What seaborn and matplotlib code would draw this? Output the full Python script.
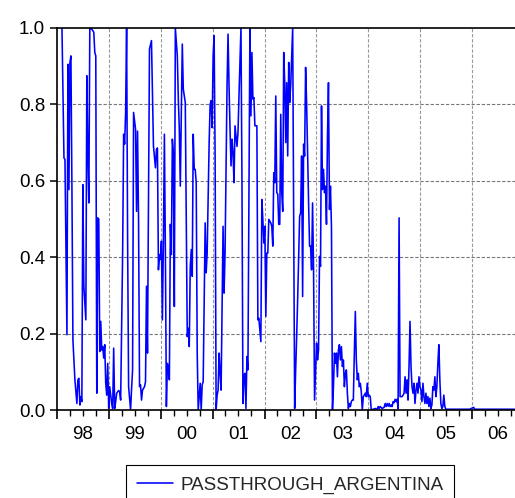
import numpy as np
import pandas as pd
import matplotlib
matplotlib.use("Agg")
import matplotlib.pyplot as plt
import matplotlib.dates as mdates
from matplotlib.lines import Line2D
import seaborn as sns

# Weekly pass-through estimates; week index counted from 1 Jan 1998.
wk_1998 = [5, 7, 8, 10, 11, 12, 13, 14, 15, 16, 18, 20, 21, 22, 23, 24, 25, 26, 27, 28,
           29, 30, 31, 32, 33, 35, 37, 38, 39, 40, 41, 42, 43, 44, 45, 46, 47, 48, 49, 50, 51]
pt_1998 = [1.0, 0.66, 0.656, 0.197, 0.905, 0.577, 0.91, 0.927, 0.586, 0.184, 0.079, 0.017,
           0.079, 0.083, 0.013, 0.035, 0.022, 0.59, 0.324, 0.28, 0.236, 0.875, 0.674, 0.542,
           1.0, 0.997, 0.989, 0.936, 0.927, 0.044, 0.503, 0.5, 0.153, 0.232, 0.157, 0.166,
           0.136, 0.171, 0.07, 0.039, 0.122]

wk_1999 = [52, 53, 55, 56, 57, 58, 59, 60, 62, 63, 64, 66, 67, 68, 69, 70, 71, 72, 74, 75,
           76, 77, 79, 80, 81, 82, 83, 84, 85, 86, 88, 89, 90, 91, 93, 95, 97, 99, 100, 101,
           102, 103]
pt_1999 = [0.004, 0.061, 0.017, 0.004, 0.162, 0.004, 0.022, 0.044, 0.051, 0.048, 0.026,
           0.41, 0.722, 0.696, 0.779, 1.0, 0.446, 0.061, 0.0, 0.056, 0.105, 0.779, 0.735,
           0.52, 0.73, 0.499, 0.061, 0.066, 0.026, 0.052, 0.061, 0.074, 0.324, 0.149, 0.945,
           0.967, 0.691, 0.634, 0.682, 0.686, 0.367, 0.407]

wk_2000 = [104, 105, 106, 107, 108, 109, 110, 111, 112, 113, 114, 115, 116, 117, 118, 119,
           121, 122, 123, 124, 126, 127, 129, 131, 132, 133, 134, 135, 136, 137, 138, 139,
           140, 141, 142, 144, 145, 146, 147, 149, 150, 151, 153, 154, 155, 156]
pt_2000 = [0.394, 0.442, 0.236, 0.442, 0.722, 0.41, 0.009, 0.122, 0.105, 0.079, 0.486,
           0.407, 0.709, 0.674, 0.271, 1.0, 0.927, 0.814, 0.735, 0.586, 0.958, 0.84, 0.805,
           0.192, 0.214, 0.166, 0.376, 0.42, 0.35, 0.722, 0.63, 0.63, 0.595, 0.149, 0.0,
           0.07, 0.0, 0.066, 0.074, 0.49, 0.359, 0.411, 0.7, 0.8, 0.81, 0.739]

wk_2001 = [157, 158, 159, 160, 161, 162, 163, 164, 165, 167, 168, 169, 171, 172, 173, 174,
           175, 176, 177, 178, 179, 181, 182, 183, 185, 186, 187, 188, 189, 190, 191, 192,
           194, 195, 196, 197, 198, 199, 201, 202, 203, 205, 206, 207, 208]
pt_2001 = [0.927, 0.98, 0.66, 0.0, 0.039, 0.052, 0.149, 0.096, 0.052, 0.481, 0.306, 0.411,
           0.849, 0.984, 0.849, 0.735, 0.639, 0.709, 0.674, 0.595, 0.744, 0.69, 0.726,
           0.822, 1.0, 0.6, 0.017, 0.092, 0.096, 0.004, 0.14, 0.105, 1.0, 0.77, 0.936,
           0.814, 0.818, 0.744, 0.744, 0.236, 0.24, 0.179, 0.551, 0.499, 0.437]

wk_2002 = [209, 210, 211, 212, 213, 215, 216, 217, 218, 219, 220, 221, 222, 223, 224, 225,
           226, 227, 228, 229, 230, 231, 232, 233, 234, 235, 236, 237, 238, 239, 240, 241,
           242, 244, 245, 246, 247, 248, 249, 250, 251, 252, 253, 254, 255, 256, 257, 258,
           259]
pt_2002 = [0.481, 0.245, 0.411, 0.411, 0.499, 0.49, 0.481, 0.429, 0.621, 0.595, 0.822,
           0.569, 0.565, 0.486, 0.486, 0.774, 0.569, 0.52, 0.936, 0.857, 0.7, 0.857, 0.665,
           0.91, 0.805, 0.849, 0.927, 1.0, 0.5, 0.004, 0.105, 0.192, 0.289, 0.507, 0.516,
           0.665, 0.297, 0.696, 0.665, 0.897, 0.805, 0.674, 0.542, 0.429, 0.429, 0.367,
           0.542, 0.367, 0.026]

wk_2003 = [261, 262, 263, 264, 265, 266, 267, 268, 269, 270, 271, 272, 273, 274, 275, 276,
           277, 278, 279, 280, 281, 282, 283, 284, 285, 286, 287, 288, 289, 290, 291, 292,
           293, 294, 295, 296, 297, 298, 299, 300, 301, 302, 303, 304, 305, 306, 307, 308,
           309, 310, 311, 312]
pt_2003 = [0.175, 0.131, 0.157, 0.402, 0.376, 0.796, 0.577, 0.63, 0.569, 0.586, 0.486,
           0.717, 0.857, 0.525, 0.586, 0.48, 0.0, 0.061, 0.149, 0.122, 0.149, 0.087, 0.157,
           0.171, 0.131, 0.166, 0.114, 0.131, 0.061, 0.096, 0.105, 0.044, 0.004, 0.017,
           0.009, 0.022, 0.026, 0.026, 0.149, 0.258, 0.131, 0.079, 0.096, 0.061, 0.07,
           0.048, 0.0, 0.035, 0.039, 0.044, 0.035, 0.07]

wk_2004 = [313, 314, 315, 316, 318, 320, 322, 323, 324, 325, 327, 329, 330, 331, 332, 333,
           334, 335, 336, 337, 338, 339, 340, 341, 342, 343, 344, 345, 346, 347, 348, 349,
           350, 351, 352, 353, 354, 355, 356, 357, 358, 359, 360, 361, 362, 363, 364, 365]
pt_2004 = [0.035, 0.039, 0.035, 0.0, 0.002, 0.004, 0.002, 0.009, 0.004, 0.009, 0.004,
           0.007, 0.017, 0.009, 0.017, 0.01, 0.017, 0.009, 0.013, 0.009, 0.022, 0.019,
           0.028, 0.022, 0.028, 0.004, 0.503, 0.035, 0.035, 0.035, 0.039, 0.044, 0.087,
           0.044, 0.079, 0.026, 0.114, 0.232, 0.114, 0.061, 0.044, 0.07, 0.017, 0.052,
           0.07, 0.044, 0.087, 0.061]

wk_2005 = [366, 367, 368, 369, 370, 371, 372, 373, 374, 375, 376, 377, 378, 379, 380, 381,
           382, 383, 384, 385, 386, 387, 388, 389, 390, 391, 395, 400, 405, 410, 415]
pt_2005 = [0.052, 0.022, 0.07, 0.035, 0.017, 0.044, 0.017, 0.035, 0.009, 0.031, 0.004,
           0.013, 0.061, 0.052, 0.087, 0.035, 0.061, 0.122, 0.171, 0.079, 0.017, 0.004,
           0.009, 0.039, 0.009, 0.002, 0.002, 0.002, 0.002, 0.002, 0.002]

wk_2006 = [419, 420, 430, 440, 450, 460]
pt_2006 = [0.007, 0.002, 0.002, 0.002, 0.002, 0.002]

year_labels = ["98", "99", "00", "01", "02", "03", "04", "05", "06"]
series_name = "PASSTHROUGH_ARGENTINA"

weeks = wk_1998 + wk_1999 + wk_2000 + wk_2001 + wk_2002 + wk_2003 + wk_2004 + wk_2005 + wk_2006
values = pt_1998 + pt_1999 + pt_2000 + pt_2001 + pt_2002 + pt_2003 + pt_2004 + pt_2005 + pt_2006
start = pd.Timestamp("1998-01-01")
df = pd.DataFrame({
    "date": start + pd.to_timedelta(np.array(weeks) * 7, unit="D"),
    "value": values,
})

sns.set_theme(style="white")
plt.rcParams["font.family"] = ["Liberation Sans", "DejaVu Sans"]
FS = 13.5
LINE_W = 1.15

fig = plt.figure(figsize=(5.15, 4.98), dpi=100)
ax = fig.add_axes([57 / 515, 1 - 410 / 498, 458 / 515, 382 / 498])

sns.lineplot(data=df, x="date", y="value", color="#0000ff", linewidth=LINE_W,
             estimator=None, sort=False, ax=ax, legend=False)

ax.set_xlim(pd.Timestamp("1998-01-01"), pd.Timestamp("2006-10-30"))
ax.set_ylim(0, 1)
ax.set_xlabel("")
ax.set_ylabel("")

# y axis
ax.set_yticks(np.arange(0, 1.01, 0.2))
ax.yaxis.set_major_formatter(matplotlib.ticker.FormatStrFormatter("%.1f"))
ax.tick_params(axis="y", direction="out", length=5, width=1.1, pad=3.5,
               labelsize=FS, colors="black", left=True)

# x axis: year boundaries as major ticks, quarters as minor ticks
ax.xaxis.set_major_locator(mdates.YearLocator())
ax.xaxis.set_minor_locator(mdates.MonthLocator(bymonth=[4, 7, 10]))
ax.xaxis.set_major_formatter(matplotlib.ticker.NullFormatter())
ax.tick_params(axis="x", which="major", direction="out", length=6.5, width=1.2,
               colors="black", bottom=True)
ax.tick_params(axis="x", which="minor", direction="out", length=4.5, width=1.0,
               colors="black", bottom=True)

for i, lab in enumerate(year_labels):
    mid = mdates.date2num(pd.Timestamp(f"{1998 + i}-07-02"))
    ax.text(mid, -0.063, lab, transform=ax.get_xaxis_transform(), ha="center",
            va="center", fontsize=FS, color="black", clip_on=False)

# grid
for yv in [0.2, 0.4, 0.6, 0.8]:
    ax.axhline(yv, color="#777777", lw=0.8, ls=(0, (3, 1.6)), zorder=0)
for yr in range(1999, 2007):
    ax.axvline(pd.Timestamp(f"{yr}-01-01"), color="#999999", lw=0.8, ls=(0, (3, 1.6)), zorder=0)

for side in ["left", "bottom", "top"]:
    ax.spines[side].set_visible(True)
    ax.spines[side].set_color("black")
    ax.spines[side].set_linewidth(1.2)
ax.spines["right"].set_visible(False)

handle = Line2D([], [], color="#0000ff", lw=LINE_W)
leg = fig.legend([handle], [series_name], loc="upper center",
                 bbox_to_anchor=(290 / 515, 1 - 465 / 498), borderaxespad=0,
                 frameon=True, fancybox=False, fontsize=FS, handlelength=1.9,
                 handletextpad=0.4, borderpad=0.6)
leg.get_frame().set_edgecolor("black")
leg.get_frame().set_linewidth(0.8)
leg.get_frame().set_alpha(1)

fig.savefig("out.png", dpi=100)
